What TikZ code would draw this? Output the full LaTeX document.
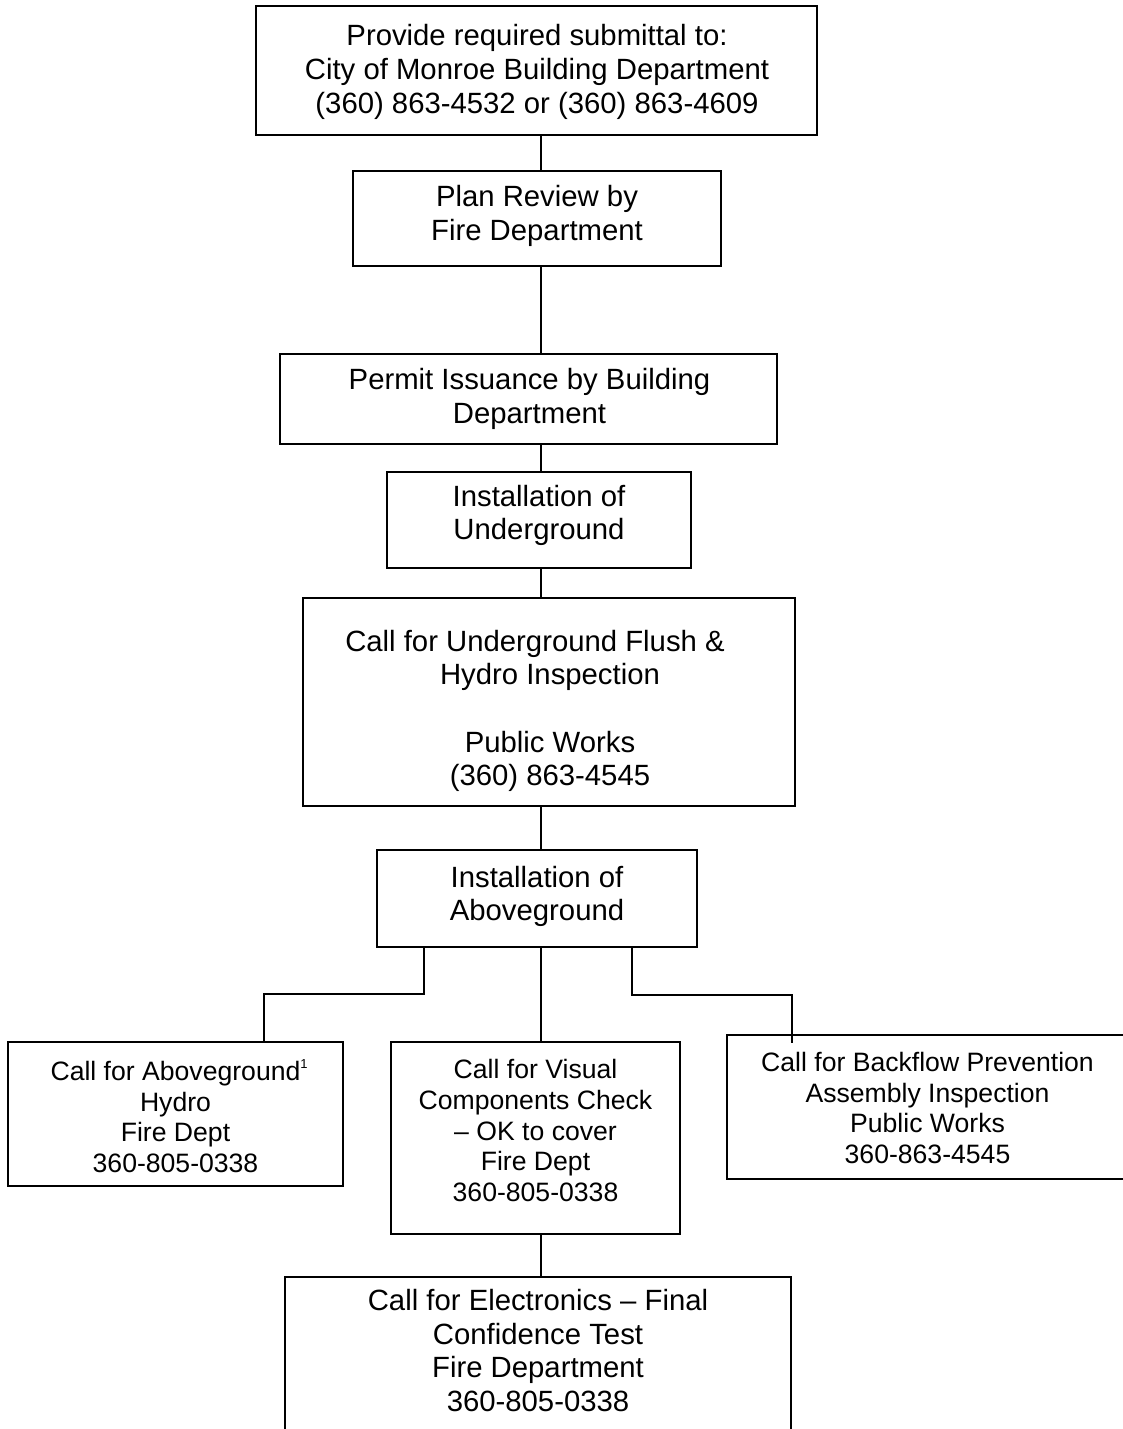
\documentclass[tikz,border=0pt]{standalone}
\usepackage{fontspec}
\setmainfont{Liberation Sans}
\usetikzlibrary{fit}
\tikzset{
  box/.style={draw=black, line width=1.8pt, inner sep=0pt, outer sep=0pt},
  bigtxt/.style={align=center, inner sep=0pt, font=\fontsize{29.3}{33.7}\selectfont},
  smalltxt/.style={align=center, inner sep=0pt, font=\fontsize{26.6}{30.6}\selectfont},
  link/.style={draw=black, line width=1.8pt}
}
\begin{document}
\begin{tikzpicture}[x=1pt, y=-1pt]
\path[use as bounding box, clip] (0,0) rectangle (1123,1429);
\fill[white] (0,0) rectangle (1123,1429);

% boxes
\node[box, fit={(256,6) (817,135)}] (b1) {};
\node[box, fit={(353,171) (721,266)}] (b2) {};
\node[box, fit={(280,354) (777,444)}] (b3) {};
\node[box, fit={(387,472) (691,568)}] (b4) {};
\node[box, fit={(303,598) (795,806)}] (b5) {};
\node[box, fit={(377,850) (697,947)}] (b6) {};
\node[box, fit={(8,1042) (343,1186)}] (bl) {};
\node[box, fit={(391,1042) (680,1234)}] (bm) {};
\node[box, fit={(727,1035) (1128,1179)}] (br) {};
\node[box, fit={(285,1277) (791,1445)}] (bb) {};

% texts
\node[bigtxt] (t1) at (537,72) {Provide required submittal to:\\City of Monroe Building Department\\(360) 863-4532 or (360) 863-4609};
\node[bigtxt] (t2) at (537,216) {Plan Review by\\Fire Department};
\node[bigtxt] (t3) at (529.5,399) {Permit Issuance by Building\\Department};
\node[bigtxt] (t4) at (539,515.5) {Installation of\\Underground};
\node[bigtxt] (t5) at (550,711) {Call for Underground Flush \&\hspace*{30pt}\\Hydro Inspection\\\mbox{}\\Public Works\\(360) 863-4545};
\node[bigtxt] (t6) at (537,896.5) {Installation of\\Aboveground};
\node[smalltxt] (tl) at (175.5,1116) {Call for Aboveground\rlap{\raisebox{12pt}{\fontsize{13}{13}\selectfont 1}}\\Hydro\\Fire Dept\\360-805-0338};
\node[smalltxt] (tm) at (535.5,1130.5) {Call for Visual\\Components Check\\\textendash{} OK to cover\\Fire Dept\\360-805-0338};
\node[smalltxt] (tr) at (927.5,1108) {Call for Backflow Prevention\\Assembly Inspection\\Public Works\\360-863-4545};
\node[bigtxt] (tb) at (538,1350.5) {Call for Electronics \textendash{} Final\\Confidence Test\\Fire Department\\360-805-0338};

% connector guide coordinates
\coordinate (ax) at (541,0);
\coordinate (jl1) at (424,994);
\coordinate (jl2) at (264,994);
\coordinate (jr1) at (632,995);
\coordinate (jr2) at (792,995);
\coordinate (jr3) at (792,1043);

% connectors
\draw[link] (b1.south -| ax) -- (b2.north -| ax);
\draw[link] (b2.south -| ax) -- (b3.north -| ax);
\draw[link] (b3.south -| ax) -- (b4.north -| ax);
\draw[link] (b4.south -| ax) -- (b5.north -| ax);
\draw[link] (b5.south -| ax) -- (b6.north -| ax);
\draw[link] (b6.south -| ax) -- (bm.north -| ax);
\draw[link] (bm.south -| ax) -- (bb.north -| ax);
\draw[link] (b6.south -| jl1) -- (jl1) -- (jl2) -- (bl.north -| jl2);
\draw[link] (b6.south -| jr1) -- (jr1) -- (jr2) -- (jr3);
\end{tikzpicture}
\end{document}
